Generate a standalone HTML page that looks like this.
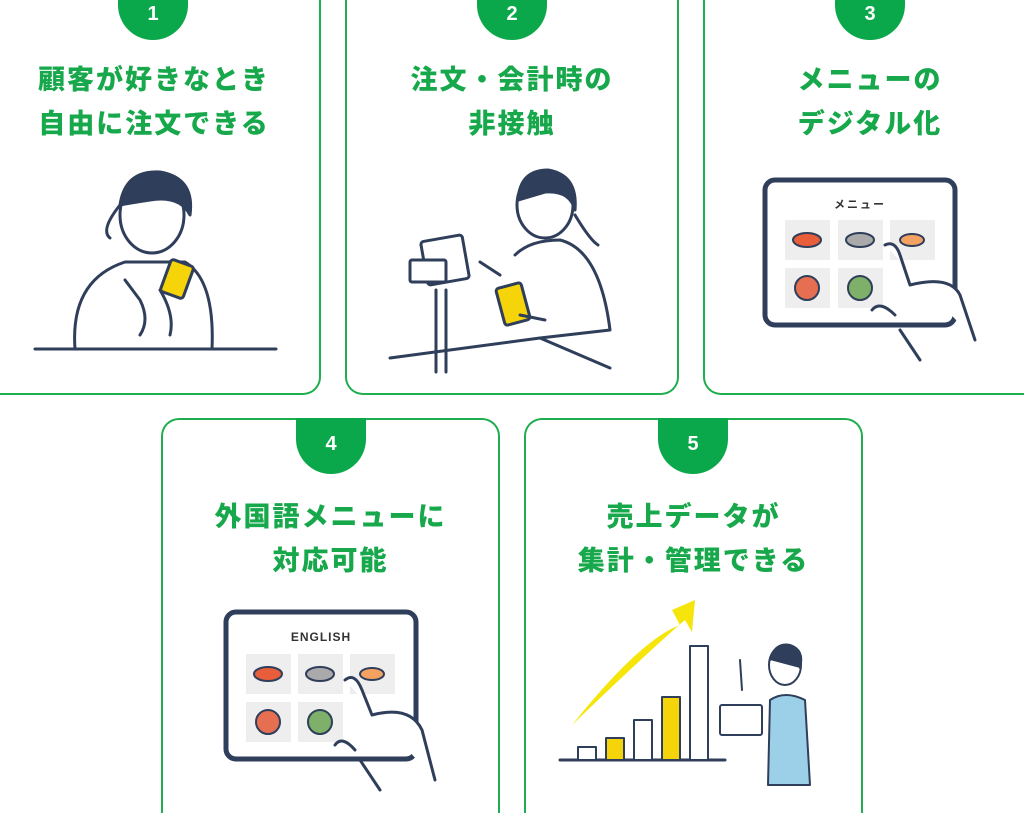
<!DOCTYPE html>
<html><head><meta charset="utf-8"><style>
html,body{margin:0;width:1024px;height:813px;overflow:hidden}
body{background:#fff;position:relative;font-family:"Liberation Sans","Noto Sans CJK JP",sans-serif}
.card{position:absolute;border:2px solid #1fae4f;border-radius:18px;box-sizing:border-box;background:#fff}
.open{border-bottom:none;border-radius:18px 18px 0 0}
.badge{position:absolute;background:#0aa84a;color:#fff;font-weight:bold;font-size:20px;text-align:center;width:70px;border-radius:0 0 35px 35px}
.t{position:absolute;color:#17a84b;font-weight:900;font-size:27px;line-height:44px;text-align:center;letter-spacing:2px}
svg{position:absolute;left:0;top:0}
</style></head><body>
<div class="card" style="left:0;top:0;width:321px;height:395px;border-top:none;border-left:none;border-radius:0 0 18px 0"></div>
<div class="card" style="left:345px;top:0;width:334px;height:395px;border-top:none;border-radius:0 0 18px 18px"></div>
<div class="card" style="left:703px;top:0;width:321px;height:395px;border-top:none;border-right:none;border-radius:0 0 0 18px"></div>
<div class="card open" style="left:161px;top:418px;width:339px;height:395px"></div>
<div class="card open" style="left:524px;top:418px;width:339px;height:395px"></div>
<div class="badge" style="left:118px;top:0;height:40px;line-height:28px">1</div>
<div class="badge" style="left:477px;top:0;height:40px;line-height:28px">2</div>
<div class="badge" style="left:835px;top:0;height:40px;line-height:28px">3</div>
<div class="badge" style="left:296px;top:418px;height:56px;line-height:52px">4</div>
<div class="badge" style="left:658px;top:418px;height:56px;line-height:52px">5</div>
<div class="t" style="left:0;width:308px;top:58px">顧客が好きなとき<br>自由に注文できる</div>
<div class="t" style="left:345px;width:334px;top:58px">注文・会計時の<br>非接触</div>
<div class="t" style="left:703px;width:334px;top:58px">メニューの<br>デジタル化</div>
<div class="t" style="left:161px;width:339px;top:495px">外国語メニューに<br>対応可能</div>
<div class="t" style="left:524px;width:339px;top:495px">売上データが<br>集計・管理できる</div>
<svg width="1024" height="813" fill="none" stroke="#2f3e5a" stroke-width="3" stroke-linecap="round" stroke-linejoin="round">
<line x1="35" y1="349" x2="276" y2="349"/>
<path d="M75 349 Q70 280 125 262 L185 262 Q215 280 212 349"/>
<ellipse cx="152" cy="215" rx="32" ry="38" fill="#fff"/>
<path d="M120 205 Q125 170 160 172 Q195 178 190 215 Q180 195 150 200 Q130 203 120 205Z" fill="#2f3e5a"/>
<path d="M120 205 Q100 230 110 238"/>
<rect x="165" y="262" width="24" height="34" rx="3" fill="#f5d50a" transform="rotate(20 177 279)"/>
<path d="M125 280 L140 300 Q150 320 140 335 M160 290 Q175 315 170 335"/>
<line x1="390" y1="358" x2="540" y2="338"/>
<line x1="540" y1="338" x2="610" y2="368"/>
<rect x="424" y="238" width="42" height="44" rx="3" fill="#fff" transform="rotate(-10 445 260)"/>
<rect x="410" y="260" width="36" height="22" rx="2" fill="#fff"/>
<line x1="436" y1="290" x2="436" y2="372"/><line x1="446" y1="290" x2="446" y2="372"/>
<ellipse cx="545" cy="205" rx="28" ry="33" fill="#fff"/>
<path d="M518 200 Q520 170 548 170 Q578 175 575 210 Q570 190 545 192Z" fill="#2f3e5a"/>
<path d="M575 215 Q590 240 598 245"/>
<path d="M515 255 Q530 240 560 240 Q600 250 610 330 L540 338"/>
<rect x="500" y="285" width="26" height="38" rx="3" fill="#f5d50a" transform="rotate(-15 513 304)"/>
<path d="M480 262 L500 275 M520 315 L545 320"/>
<rect x="765" y="180" width="190" height="145" rx="10" stroke-width="5" fill="#fff"/>
<g fill="#eee" stroke="none"><rect x="785" y="220" width="45" height="40"/><rect x="838" y="220" width="45" height="40"/><rect x="890" y="220" width="45" height="40"/><rect x="785" y="268" width="45" height="40"/><rect x="838" y="268" width="45" height="40"/></g>
<ellipse cx="807" cy="240" rx="14" ry="7" fill="#e85d3a" stroke-width="2"/>
<ellipse cx="860" cy="240" rx="14" ry="7" fill="#aaa" stroke-width="2"/>
<ellipse cx="912" cy="240" rx="12" ry="6" fill="#f4a261" stroke-width="2"/>
<circle cx="807" cy="288" r="12" fill="#e76f51" stroke-width="2"/>
<circle cx="860" cy="288" r="12" fill="#7fb069" stroke-width="2"/>
<path d="M885 245 Q895 240 900 255 L910 285 Q950 275 960 295 L975 340 M900 330 L920 360 M872 310 Q880 300 895 315" fill="#fff"/>
<rect x="226" y="612" width="190" height="147" rx="10" stroke-width="5" fill="#fff"/>
<g fill="#eee" stroke="none"><rect x="246" y="654" width="45" height="40"/><rect x="298" y="654" width="45" height="40"/><rect x="350" y="654" width="45" height="40"/><rect x="246" y="702" width="45" height="40"/><rect x="298" y="702" width="45" height="40"/></g>
<ellipse cx="268" cy="674" rx="14" ry="7" fill="#e85d3a" stroke-width="2"/>
<ellipse cx="320" cy="674" rx="14" ry="7" fill="#aaa" stroke-width="2"/>
<ellipse cx="372" cy="674" rx="12" ry="6" fill="#f4a261" stroke-width="2"/>
<circle cx="268" cy="722" r="12" fill="#e76f51" stroke-width="2"/>
<circle cx="320" cy="722" r="12" fill="#7fb069" stroke-width="2"/>
<path d="M345 680 Q355 672 362 690 L372 715 Q410 705 422 730 L435 780 M360 760 L380 790 M335 745 Q342 735 355 750" fill="#fff"/>
<path d="M572 725 Q640 640 680 625 L672 610 L695 600 L692 632 L685 620 Q650 650 572 725Z" fill="#f5e50a" stroke="none"/>
<line x1="560" y1="760" x2="725" y2="760"/>
<g stroke-width="2"><rect x="578" y="747" width="18" height="13" fill="#fff"/><rect x="606" y="738" width="18" height="22" fill="#f5d50a"/><rect x="634" y="720" width="18" height="40" fill="#fff"/><rect x="662" y="697" width="18" height="63" fill="#f5d50a"/><rect x="690" y="646" width="18" height="114" fill="#fff"/></g>
<ellipse cx="785" cy="665" rx="16" ry="20" fill="#fff" stroke-width="2"/>
<path d="M770 660 Q775 642 790 645 Q805 650 800 668" fill="#2f3e5a" stroke-width="2"/>
<path d="M768 785 L770 700 Q785 690 805 700 L810 785Z" fill="#9ccfe8" stroke-width="2"/>
<rect x="720" y="705" width="42" height="30" rx="2" fill="#fff" stroke-width="2"/>
<path d="M740 660 L742 690" stroke-width="2"/>
</svg>
<div style="position:absolute;left:765px;top:196px;width:190px;text-align:center;font-size:11px;font-weight:bold;color:#333;letter-spacing:2px">メニュー</div>
<div style="position:absolute;left:226px;top:630px;width:190px;text-align:center;font-size:12px;font-weight:bold;color:#333;letter-spacing:1px">ENGLISH</div>
</body></html>
